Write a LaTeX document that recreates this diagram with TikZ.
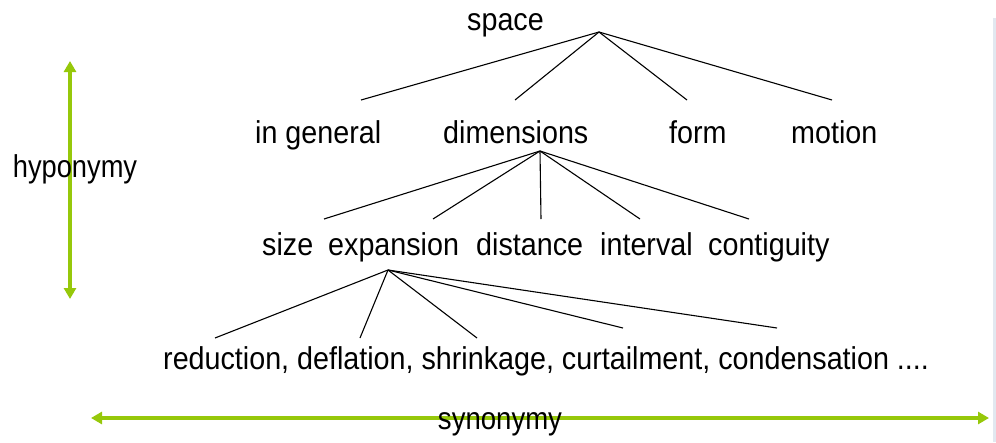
\documentclass[tikz,border=0pt]{standalone}
\usepackage{fontspec}
\usepackage{graphicx}
\setmainfont{Liberation Sans}
\usetikzlibrary{arrows.meta}
\definecolor{lime}{RGB}{150,200,10}
\definecolor{edgegray}{RGB}{226,232,240}
\newcommand\tallword[1]{\scalebox{1}[1.1]{#1}}
\begin{document}
\begin{tikzpicture}[x=1pt,y=-1pt,
  word/.style={inner sep=0pt,anchor=base west,font=\fontsize{28.7}{34}\selectfont},
  branch/.style={draw=black,line width=1.1pt},
  relarrow/.style={draw=lime,line width=4pt,{Triangle[width=12pt,length=11pt]}-{Triangle[width=12pt,length=11pt]}}]
\useasboundingbox (0,0) rectangle (996,442);
\fill[edgegray] (993,18) rectangle (996,442);
% level 0
\node[word] (space) at (467,30) {\tallword{space}};
\coordinate (spaceapex) at (599,32);
% level 1
\node[word] (ingeneral) at (255,143) {\tallword{in general}};
\node[word] (dimensions) at (443,143) {\tallword{dimensions}};
\node[word] (form) at (669,143) {\tallword{form}};
\node[word] (motion) at (791,143) {\tallword{motion}};
\coordinate (t1) at (361,100);
\coordinate (t2) at (515,100);
\coordinate (t3) at (687,100);
\coordinate (t4) at (832,100);
\coordinate (dimapex) at (540,151);
% level 2
\node[word] (size) at (262,255) {\tallword{size}};
\node[word] (expansion) at (328,255) {\tallword{expansion}};
\node[word] (distance) at (476,255) {\tallword{distance}};
\node[word] (interval) at (600,255) {\tallword{interval}};
\node[word] (contiguity) at (708,255) {\tallword{contiguity}};
\coordinate (d1) at (324,219);
\coordinate (d2) at (433,219);
\coordinate (d3) at (541,219);
\coordinate (d4) at (640,219);
\coordinate (d5) at (749,219);
\coordinate (expapex) at (388,270);
% level 3
\node[word] (syn) at (163,369) {\tallword{reduction, deflation, shrinkage, curtailment, condensation ....}};
\coordinate (e1) at (215,338);
\coordinate (e2) at (360,338);
\coordinate (e3) at (477,338);
\coordinate (e4) at (623,328);
\coordinate (e5) at (777,328);
% branches
\foreach \t in {t1,t2,t3,t4} \draw[branch] (spaceapex) -- (\t);
\foreach \t in {d1,d2,d3,d4,d5} \draw[branch] (dimapex) -- (\t);
\foreach \t in {e1,e2,e3,e4,e5} \draw[branch] (expapex) -- (\t);
% relation arrows
\coordinate (hyptop) at (70,61);
\coordinate (hypbot) at (70,299);
\draw[relarrow] (hypbot) -- (hyptop);
\node[word,anchor=base] (hyponymy) at (75,177) {\scalebox{0.95}[1.1]{hyponymy}};
\coordinate (synleft) at (91,418);
\coordinate (synright) at (989,418);
\draw[relarrow] (synleft) -- (synright);
\node[word,anchor=base] (synonymy) at (500,429) {\scalebox{0.96}[1.1]{synonymy}};
\end{tikzpicture}
\end{document}
